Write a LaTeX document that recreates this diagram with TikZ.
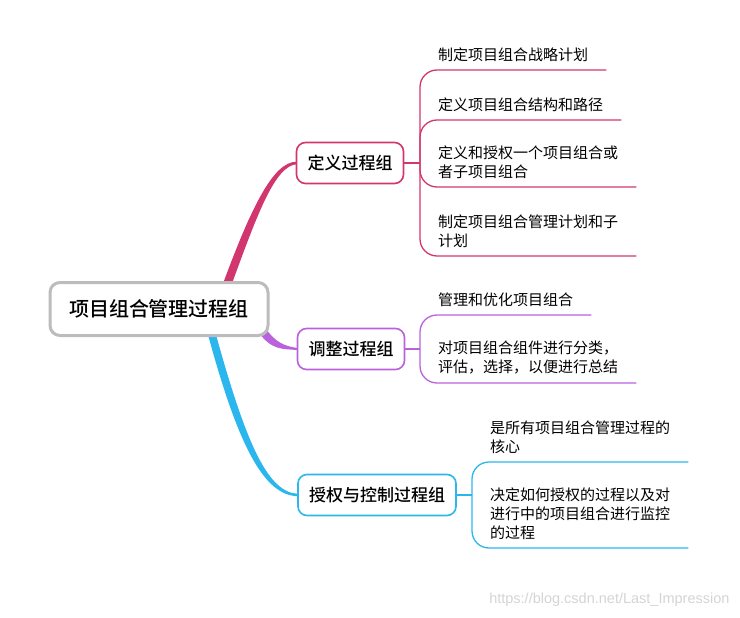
\documentclass[tikz,border=0pt]{standalone}
\usepackage{fontspec}
\setmainfont{Noto Sans CJK SC}
\newfontfamily\medfont{Noto Sans CJK SC Medium}
\newfontfamily\wmfont{Liberation Sans}
\usetikzlibrary{calc,backgrounds}
\definecolor{defc}{RGB}{210,54,110}
\definecolor{adjc}{RGB}{186,98,222}
\definecolor{ctlc}{RGB}{44,182,238}
\definecolor{rootc}{RGB}{188,188,188}
\definecolor{wmc}{RGB}{212,212,212}
\tikzset{
  rootbox/.style={draw=rootc,line width=3pt,rounded corners=10pt,fill=white,
    minimum width=218pt,minimum height=53pt,font=\medfont\fontsize{20}{24}\selectfont},
  groupbox/.style={draw=#1,line width=1.6pt,rounded corners=9pt,fill=white,
    minimum height=41pt,inner xsep=11pt,font=\medfont\fontsize{17}{20}\selectfont},
  leaf/.style={anchor=south west,inner xsep=18pt,inner ysep=8.5pt,align=left,
    font=\fontsize{15}{18.7}\selectfont},
  leafline/.style={draw=#1,line width=1.3pt,rounded corners=17pt},
}
\begin{document}
\begin{tikzpicture}[x=1pt,y=-1pt]
\useasboundingbox (0,0) rectangle (740,618);
%=======root and groups=============
\node[rootbox] (root) at (159,309) {项目组合管理过程组};
\node[groupbox=defc] (def) at (350,163) {定义过程组};
\node[groupbox=adjc] (adj) at (351,349) {调整过程组};
\node[groupbox=ctlc] (ctl) at (377,495) {授权与控制过程组};
\coordinate (defj) at (420,163);
\coordinate (adjj) at (420,349);
\coordinate (ctlj) at (472,495);
%=======leaves of def=============
\node[leaf] (d1) at (420,70) {制定项目组合战略计划};
\node[leaf] (d2) at (420,120) {定义项目组合结构和路径};
\node[leaf] (d3) at (420,187) {定义和授权一个项目组合或\\者子项目组合};
\node[leaf] (d4) at (420,256) {制定项目组合管理计划和子\\计划};
%=======leaves of adj=============
\node[leaf] (a1) at (420,315) {管理和优化项目组合};
\node[leaf] (a2) at (420,383) {对项目组合组件进行分类，\\评估，选择，以便进行总结};
%=======leaves of ctl=============
\node[leaf] (c1) at (472,462) {是所有项目组合管理过程的\\核心};
\node[leaf] (c2) at (472,548) {决定如何授权的过程以及对\\进行中的项目组合进行监控\\的过程};
%=======connectors=============
\begin{scope}[on background layer]
\fill[defc] ($(root.north)+(62,8)$) .. controls (250,210) and (273,161) .. ($(def.west)+(1,-1.2)$)
  -- ++(0,2.4) .. controls (275,166) and (258,212) .. ($(root.north)+(71,8)$) -- cycle;
\fill[adjc] ($(root.south east)+(-11,-5)$) .. controls (271,350) and (282,349) .. ($(adj.west)+(1,1)$)
  -- ++(0,-2) .. controls (284,346) and (276,343) .. ($(root.south east)+(-5,-10)$) -- cycle;
\fill[ctlc] ($(root.south)+(48,-6)$) .. controls (238,446) and (264,496) .. ($(ctl.west)+(1,1.2)$)
  -- ++(0,-2.4) .. controls (268,493) and (246,444) .. ($(root.south)+(56,-6)$) -- cycle;
\end{scope}
\draw[defc,line width=1.3pt] (def.east) -- (defj);
\foreach \l in {d1,d2,d3,d4}
  \draw[leafline=defc] (defj) -- (\l.south west) -- (\l.south east);
\draw[adjc,line width=1.3pt] (adj.east) -- (adjj);
\foreach \l in {a1,a2}
  \draw[leafline=adjc] (adjj) -- (\l.south west) -- (\l.south east);
\draw[ctlc,line width=1.3pt] (ctl.east) -- (ctlj);
\foreach \l in {c1,c2}
  \draw[leafline=ctlc] (ctlj) -- (\l.south west) -- (\l.south east);
%=======watermark=============
\node[anchor=east,text=wmc,font=\wmfont\fontsize{14.5}{16}\selectfont] (wm) at (733,600) {https://blog.csdn.net/Last\_Impression};
\end{tikzpicture}
\end{document}
